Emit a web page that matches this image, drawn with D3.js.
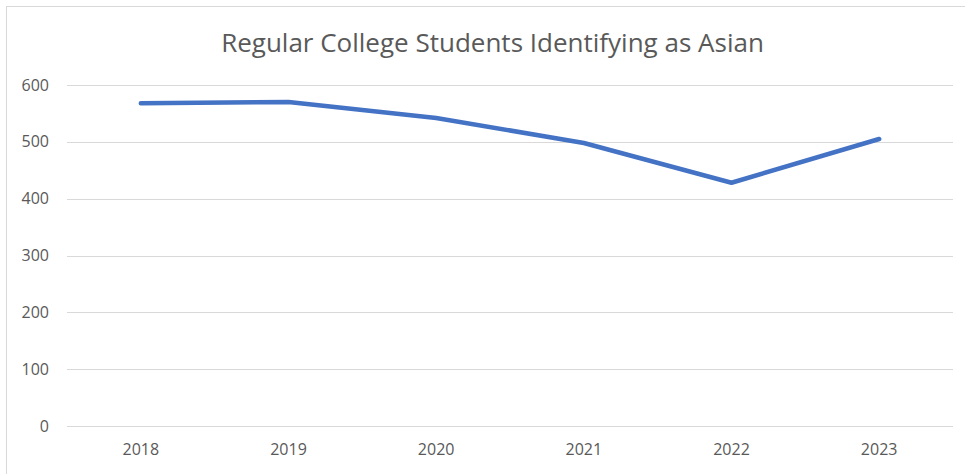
<!DOCTYPE html>
<html>
<head>
<meta charset="utf-8">
<script src="https://cdn.jsdelivr.net/npm/d3@7"></script>
<style>
  body { margin: 0; background: #fff; }
  svg { display: block; }
</style>
</head>
<body>
<svg id="chart"></svg>
<script>
const width = 965;
const height = 474;

const years = ['2018', '2019', '2020', '2021', '2022', '2023'];
const students = [568, 570, 542, 498, 428, 505];
const yTicks = [0, 100, 200, 300, 400, 500, 600];
const title = 'Regular College Students Identifying as Asian';

const font = "'Open Sans', 'Noto Sans', sans-serif";
const textColor = '#595959';

const svg = d3.select('#chart')
    .attr('width', width)
    .attr('height', height);

// chart area border
svg.append('rect')
    .attr('x', 6.5)
    .attr('y', 6.5)
    .attr('width', width + 10)
    .attr('height', height + 10)
    .attr('fill', '#fff')
    .attr('stroke', '#d9d9d9');

const x = d3.scaleBand().domain(years).range([67, 953]);
const y = d3.scaleLinear().domain([0, 600]).range([426, 85]);

// gridlines
svg.append('g')
    .selectAll('line')
    .data(yTicks)
    .enter()
    .append('line')
    .attr('x1', 67)
    .attr('x2', 953)
    .attr('y1', d => Math.round(y(d)) + 0.5)
    .attr('y2', d => Math.round(y(d)) + 0.5)
    .attr('stroke', '#d9d9d9')
    .attr('stroke-width', 1);

// y axis labels
const yAxis = svg.append('g')
    .attr('transform', 'translate(49, 0)')
    .call(d3.axisLeft(y).tickValues(yTicks).tickSize(0).tickPadding(0));
yAxis.select('.domain').remove();
yAxis.selectAll('text')
    .attr('fill', textColor)
    .style('font-family', font)
    .style('font-size', '16px');

// x axis labels
const xAxis = svg.append('g')
    .attr('transform', 'translate(0, 444)')
    .call(d3.axisBottom(x).tickSize(0).tickPadding(0));
xAxis.select('.domain').remove();
xAxis.selectAll('text')
    .attr('fill', textColor)
    .style('font-family', font)
    .style('font-size', '16px');

// title
svg.append('text')
    .attr('x', 492.5)
    .attr('y', 52)
    .attr('text-anchor', 'middle')
    .attr('fill', textColor)
    .style('font-family', font)
    .style('font-size', '26px')
    .text(title);

// line
const points = years.map((yr, i) => ({ year: yr, value: students[i] }));
svg.append('path')
    .datum(points)
    .attr('fill', 'none')
    .attr('stroke', '#4472C4')
    .attr('stroke-width', 4.5)
    .attr('stroke-linecap', 'round')
    .attr('stroke-linejoin', 'round')
    .attr('d', d3.line()
        .x(d => x(d.year) + x.bandwidth() / 2)
        .y(d => y(d.value)));
</script>
</body>
</html>
